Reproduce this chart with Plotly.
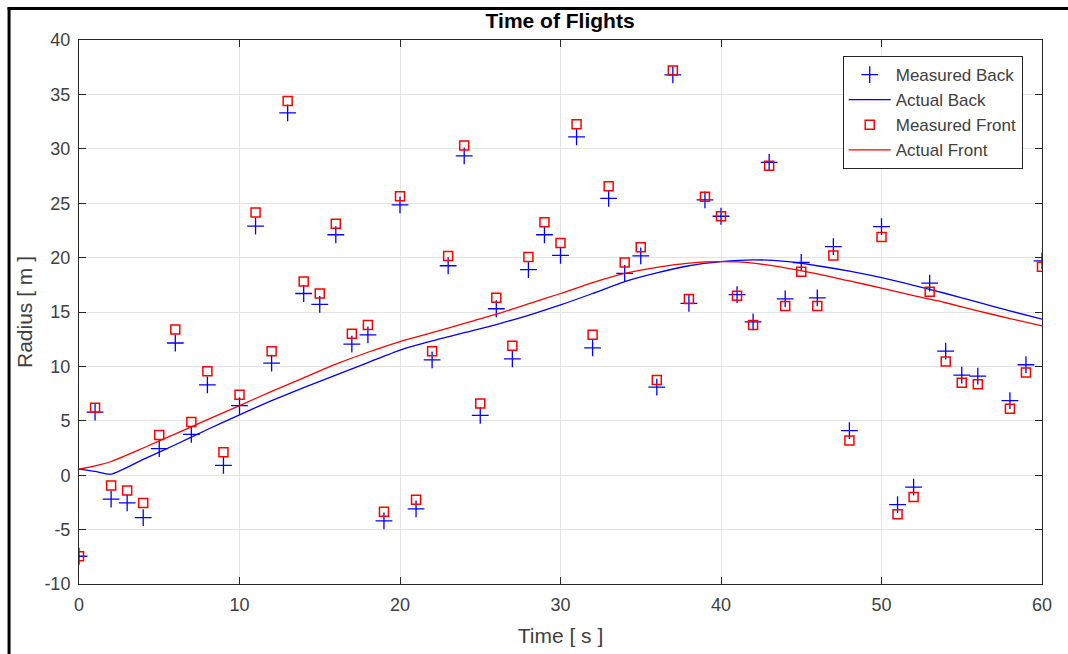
import plotly.graph_objects as go

# Measured samples (seconds)
t_meas = [0, 1, 2, 3, 4, 5, 6, 7, 8, 9, 10, 11, 12, 13, 14, 15, 16, 17, 18, 19,
          20, 21, 22, 23, 24, 25, 26, 27, 28, 29, 30, 31, 32, 33, 34, 35, 36, 37, 38, 39,
          40, 41, 42, 43, 44, 45, 46, 47, 48, 50, 51, 52, 53, 54, 55, 56, 58, 59, 60]
back_meas = [-7.45, 5.8, -2.2, -2.55, -3.9, 2.45, 12.15, 3.75, 8.3, 0.9, 6.4, 22.9, 10.3, 33.3, 16.7, 15.7, 22.1, 12.05, 12.9, -4.2,
             24.85, -3.1, 10.6, 19.25, 29.35, 5.5, 15.3, 10.7, 18.9, 22.1, 20.2, 31.1, 11.7, 25.45, 18.55, 20.15, 8.1, 36.8, 15.8, 25.3,
             23.8, 16.6, 14.1, 28.75, 16.2, 19.55, 16.3, 21.0, 4.1, 22.85, -2.7, -1.1, 17.65, 11.4, 9.2, 9.1, 6.85, 10.15, 19.7]
front_meas = [-7.45, 6.2, -0.95, -1.4, -2.55, 3.7, 13.4, 4.9, 9.55, 2.1, 7.4, 24.15, 11.4, 34.4, 17.8, 16.7, 23.1, 13.0, 13.8, -3.35,
              25.65, -2.25, 11.4, 20.15, 30.3, 6.6, 16.3, 11.9, 20.05, 23.25, 21.35, 32.25, 12.9, 26.55, 19.55, 20.95, 8.75, 37.2, 16.2, 25.6,
              23.8, 16.5, 13.8, 28.45, 15.55, 18.7, 15.55, 20.2, 3.2, 21.9, -3.6, -2.0, 16.85, 10.45, 8.5, 8.35, 6.1, 9.45, 19.15]

# Actual trajectories (read at sample times)
t_act = [0, 1, 2, 4, 6, 8, 10, 12, 14, 16, 18, 20, 22, 24, 26, 28, 30, 32, 34, 36, 38, 40,
         42, 44, 46, 48, 50, 52, 54, 56, 58, 60]
back_act = [0.56, 0.35, 0.1, 1.45, 2.8, 4.2, 5.55, 6.85, 8.05, 9.2, 10.35, 11.5, 12.35, 13.1, 13.85, 14.7, 15.65, 16.7, 17.8, 18.6, 19.25, 19.63,
            19.8, 19.65, 19.25, 18.75, 18.15, 17.45, 16.7, 15.9, 15.1, 14.35]
front_act = [0.56, 0.86, 1.26, 2.5, 3.8, 5.1, 6.4, 7.7, 8.95, 10.2, 11.3, 12.28, 13.1, 13.95, 14.8, 15.75, 16.7, 17.7, 18.55, 19.1, 19.5, 19.63,
             19.5, 19.05, 18.5, 17.85, 17.2, 16.5, 15.85, 15.1, 14.4, 13.72]

x_ticks = [0, 10, 20, 30, 40, 50, 60]
y_ticks = [-10, -5, 0, 5, 10, 15, 20, 25, 30, 35, 40]

AX = "#262626"
TXT = "#404040"
FONT = "Liberation Sans, Arial, Helvetica, sans-serif"

fig = go.Figure()
fig.add_trace(go.Scatter(x=t_meas, y=back_meas, mode="markers", name="Measured Back",
                         marker=dict(symbol="cross-thin-open", size=12, color="#0000ff",
                                     line=dict(color="#0000ff", width=1.3))))
fig.add_trace(go.Scatter(x=t_act, y=back_act, mode="lines", name="Actual Back",
                         line=dict(color="#0000ff", width=1.3, shape="spline", smoothing=0.6)))
fig.add_trace(go.Scatter(x=t_meas, y=front_meas, mode="markers", name="Measured Front",
                         marker=dict(symbol="square-open", size=9, color="#ff0000",
                                     line=dict(color="#ff0000", width=1.5))))
fig.add_trace(go.Scatter(x=t_act, y=front_act, mode="lines", name="Actual Front",
                         line=dict(color="#ff0000", width=1.3, shape="spline", smoothing=0.6)))

L, R, T, B = 78.5, 1042.3, 40.0, 584.3
W, H = 1068, 654
pw, ph = R - L, B - T

def px(x):
    return (x - L) / pw

def py(y):
    return (B - y) / ph

fig.update_layout(
    width=W, height=H,
    margin=dict(l=L, r=W - R, t=T, b=H - B, pad=0),
    paper_bgcolor="white", plot_bgcolor="white",
    font=dict(family=FONT, color=TXT, size=17),
    title=dict(text="<b>Time of Flights</b>", x=px(560), xref="paper", xanchor="center",
               y=1 - 21 / H, yanchor="middle", font=dict(size=21, color="#000000", family=FONT)),
    showlegend=True,
    legend=dict(x=px(1023), y=py(56), xanchor="right", yanchor="top",
                bgcolor="white", bordercolor=AX, borderwidth=1, itemwidth=42,
                font=dict(size=17, color=TXT, family=FONT), tracegroupgap=0),
    xaxis=dict(range=[0, 60], tickvals=x_ticks, ticktext=[str(v) for v in x_ticks],
               showgrid=True, gridcolor="#e3e3e3", gridwidth=1, zeroline=False,
               showline=True, linecolor=AX, linewidth=1, mirror="ticks",
               ticks="inside", ticklen=7, tickcolor=AX, tickwidth=1,
               tickfont=dict(size=18, color=TXT), ticklabelstandoff=4,
               title=dict(text="Time [ s ]", font=dict(size=21, color=TXT), standoff=14)),
    yaxis=dict(range=[-10, 40], tickvals=y_ticks, ticktext=[str(v) for v in y_ticks],
               showgrid=True, gridcolor="#e3e3e3", gridwidth=1, zeroline=False,
               showline=True, linecolor=AX, linewidth=1, mirror="ticks",
               ticks="inside", ticklen=7, tickcolor=AX, tickwidth=1,
               tickfont=dict(size=18, color=TXT), ticklabelstandoff=4,
               title=dict(text="Radius [ m ]", font=dict(size=21, color=TXT), standoff=6)),
    shapes=[
        dict(type="line", xref="paper", yref="paper", x0=px(8.5), x1=px(8.5), y0=py(7.5), y1=py(670),
             line=dict(color="black", width=3)),
        dict(type="line", xref="paper", yref="paper", x0=px(7), x1=px(1080), y0=py(8.5), y1=py(8.5),
             line=dict(color="black", width=3)),
    ],
)

fig.write_html("out.html")
